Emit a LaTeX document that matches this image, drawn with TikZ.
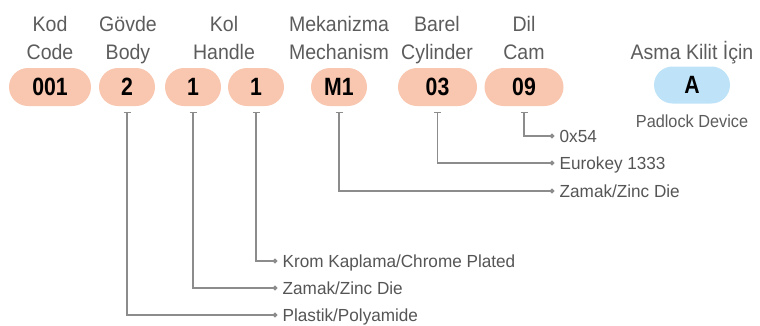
\documentclass[tikz,border=0pt]{standalone}
\usepackage{fontspec}
\setmainfont{Liberation Sans}
\newfontfamily\headfont{Liberation Sans}[FakeStretch=0.93]
\newfontfamily\pillfont{Liberation Sans}[FakeStretch=0.85]
\newfontfamily\specfont{Liberation Sans}[FakeStretch=0.98]
\usetikzlibrary{shapes.misc,arrows.meta,positioning}
\definecolor{pillred}{HTML}{F9C6AF}
\definecolor{pillblue}{HTML}{BEE3F8}
\definecolor{headgray}{HTML}{5C5C5C}
\definecolor{specgray}{HTML}{555555}
\definecolor{linegray}{HTML}{8C8C8C}
\begin{document}
\begin{tikzpicture}[x=1pt, y=-1pt,
    head/.style={font=\headfont\fontsize{21}{28}\selectfont, text=headgray, align=center, anchor=base, inner sep=0pt},
    pill/.style={rounded rectangle, fill=pillred, minimum height=38pt, minimum width=#1, inner sep=0pt, font=\pillfont\bfseries\fontsize{25}{25}\selectfont},
    pill/.default=56pt,
    spec/.style={font=\specfont\fontsize{17.5}{17.5}\selectfont, text=specgray, anchor=west, inner xsep=5pt, inner ysep=0pt, text height=12.5pt, text depth=0pt},
    conn/.style={draw=linegray, line width=1.1pt, {Bar[width=7pt,line width=1.1pt]}-{Circle[length=5pt]}}]
    \useasboundingbox (0,0) rectangle (760,325);

    \node[head] (hcode) at (50,59) {Kod\\Code};
    \node[head] (hbody) at (128,59) {Gövde\\Body};
    \node[head] (hhandle) at (224,59) {Kol\\Handle};
    \node[head] (hmech) at (339,59) {Mekanizma\\Mechanism};
    \node[head] (hcyl) at (437,59) {Barel\\Cylinder};
    \node[head] (hcam) at (524,59) {Dil\\Cam};
    \node[head] (hpad) at (692,59) {Asma Kilit İçin};

    \node[pill=82pt] (p001) at (50,87) {001};
    \node[pill] (pbody) at (127,87) {2};
    \node[pill] (phandle) at (193,87) {1};
    \node[pill] (pfinish) at (256,87) {1};
    \node[pill] (pmech) at (339,87) {M1};
    \node[pill=79pt] (pcyl) at (437.5,87) {03};
    \node[pill=79pt] (pcam) at (524,87) {09};
    \node[pill=76pt, fill=pillblue, minimum height=37pt] (ppad) at (692,85) {A};
    \node[head, font=\headfont\fontsize{17.5}{20}\selectfont] (padlock) at (692,127.5) {Padlock Device};

    \node[spec] (scam) at (554.5,136) {0x54};
    \node[spec] (scyl) at (554.5,163) {Eurokey 1333};
    \node[spec] (smech) at (554.5,191) {Zamak/Zinc Die};
    \node[spec] (sfinish) at (277.5,261) {Krom Kaplama/Chrome Plated};
    \node[spec] (shandle) at (277.5,288) {Zamak/Zinc Die};
    \node[spec] (sbody) at (277.5,315) {Plastik/Polyamide};

    \draw[conn] ([yshift=-6pt]pcam.south) |- (scam.west);
    \draw[conn] ([yshift=-6pt]pcyl.south) |- (scyl.west);
    \draw[conn] ([yshift=-6pt]pmech.south) |- (smech.west);
    \draw[conn] ([yshift=-6pt]pfinish.south) |- (sfinish.west);
    \draw[conn] ([yshift=-6pt]phandle.south) |- (shandle.west);
    \draw[conn] ([yshift=-6pt]pbody.south) |- (sbody.west);
\end{tikzpicture}
\end{document}
